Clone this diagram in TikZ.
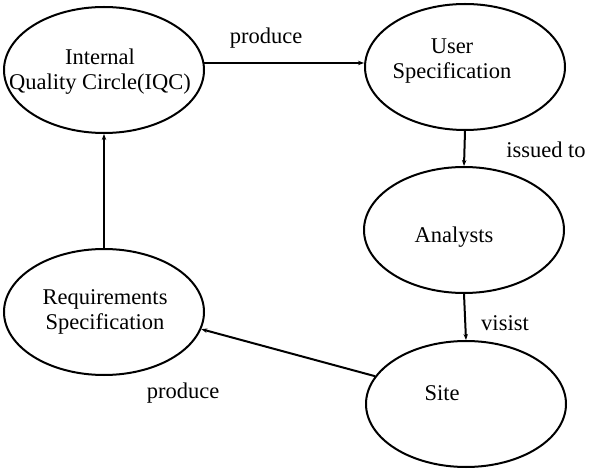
\documentclass[tikz,border=0pt]{standalone}
\usepackage{fontspec}
\setmainfont{Liberation Serif}
\usetikzlibrary{positioning,arrows.meta,shapes.geometric}

\begin{document}
\begin{tikzpicture}[x=1pt,y=-1pt,
    bubble/.style={draw,ellipse,line width=2pt,minimum width=200pt,minimum height=126pt,inner sep=0},
    txt/.style={align=center,inner sep=0,font=\fontsize{22.5}{25}\selectfont},
    flow/.style={line width=2pt,-{Stealth[length=6pt,width=4.5pt]}}]
  \useasboundingbox (0,0) rectangle (589,470);
  % the five ellipses
  \node[bubble] (iqc) at (104,70) {};
  \node[bubble] (us) at (465,67) {};
  \node[bubble] (an) at (464,230) {};
  \node[bubble] (site) at (466,404) {};
  \node[bubble] (req) at (104,312) {};
  % their texts
  \node[txt] (iqc-t) at (100,72) {Internal\\Quality Circle(IQC)};
  \node[txt] (us-t) at (452,61) {User\\Specification};
  \node[txt] (an-t) at (454,237) {Analysts};
  \node[txt] (site-t) at (442,393) {Site};
  \node[txt] (req-t) at (105,312) {Requirements\\Specification};
  % connectors
  \draw[flow] (iqc.4) -- (iqc.4 -| us.west);
  \draw[flow] (us.south) -- (an.north);
  \draw[flow] (an.south) -- (site.north);
  \draw[flow] (site.163) -- (req.350);
  \draw[flow] (req.north) -- (iqc.south);
  % connector labels
  \node[txt] (l1) at (266,38) {produce};
  \node[txt] (l2) at (546,150) {issued to};
  \node[txt] (l3) at (505,323) {visist};
  \node[txt] (l4) at (183,393) {produce};
\end{tikzpicture}
\end{document}
